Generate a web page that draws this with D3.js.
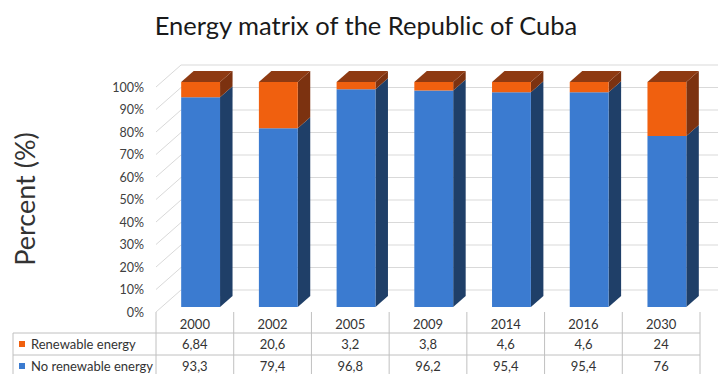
<!DOCTYPE html>
<html><head><meta charset="utf-8">
<script src="https://cdn.jsdelivr.net/npm/d3@7"></script>
<style>html,body{margin:0;padding:0;background:#fff;}svg{display:block;}</style>
</head><body>
<svg id="c" width="718" height="374"></svg>
<script>
const years = ["2000","2002","2005","2009","2014","2016","2030"];
const renewable = [6.84,20.6,3.2,3.8,4.6,4.6,24];
const noRenewable = [93.3,79.4,96.8,96.2,95.4,95.4,76];
const renewableLabels = ["6,84","20,6","3,2","3,8","4,6","4,6","24"];
const noRenewableLabels = ["93,3","79,4","96,8","96,2","95,4","95,4","76"];
const yTicks = [0,10,20,30,40,50,60,70,80,90,100];
const seriesNames = ["No renewable energy","Renewable energy"];

const svg = d3.select("#c");
const font = "Lato, 'Open Sans', sans-serif";

// layout
const x0 = 156, x1 = 700;
const depthX = 25, depthY = -22;       // floor depth offset
const t0 = 0.23, t1 = 0.73;            // bar front/back depth fractions
const x = d3.scaleBand().domain(years).range([x0, x1]).paddingInner(0.5).paddingOuter(0.25);
const col = d3.scaleBand().domain(years).range([x0, x1]);
const y = d3.scaleLinear().domain([0,100]).range([312, 87]);
const P = (px, v, t) => [px + depthX*t, y(v) + depthY*t];

// walls / gridlines
const grid = svg.append("g").attr("stroke","#d9d9d9").attr("stroke-width",1).attr("fill","none");
yTicks.forEach(v => {
  const a = P(x0, v, 0), b = P(x0, v, 1), c = P(x1, v, 1);
  grid.append("path").attr("d", `M${a[0]},${a[1]}L${b[0]},${b[1]}L${c[0]},${c[1]}`);
});

// stacked data
const rows = years.map((yr,i) => ({year: yr, "No renewable energy": noRenewable[i], "Renewable energy": renewable[i]}));
const stack = d3.stack().keys(seriesNames).offset(d3.stackOffsetExpand)(rows);
const colors = {
  "No renewable energy": {front:"#3b7bd0", side:"#1f3f68", top:"#2c5fa3"},
  "Renewable energy": {front:"#f0600f", side:"#7c3210", top:"#8e3a12"}
};

const bars = svg.append("g");
years.forEach((yr, i) => {
  const xl = x(yr), xr = x(yr) + x.bandwidth();
  stack.forEach((s, si) => {
    const v0 = s[i][0]*100, v1 = s[i][1]*100;
    const c = colors[s.key];
    const poly = pts => pts.map(p => p.join(",")).join(" ");
    bars.append("polygon").attr("fill", c.side)
      .attr("points", poly([P(xr,v0,t0), P(xr,v1,t0), P(xr,v1,t1), P(xr,v0,t1)]));
    bars.append("polygon").attr("fill", c.front)
      .attr("points", poly([P(xl,v0,t0), P(xr,v0,t0), P(xr,v1,t0), P(xl,v1,t0)]));
    if (si === stack.length - 1) {
      bars.append("polygon").attr("fill", c.top)
        .attr("points", poly([P(xl,v1,t0), P(xr,v1,t0), P(xr,v1,t1), P(xl,v1,t1)]));
    }
  });
});

// y axis labels
const yAxis = d3.axisLeft(y).tickValues(yTicks).tickFormat(d => d + "%").tickSize(0).tickPadding(0);
const ga = svg.append("g").attr("transform","translate(144,0)").call(yAxis);
ga.select(".domain").remove();
ga.selectAll("text").attr("font-family", font).attr("font-size", 12.5).attr("fill", "#404040");

// y title
svg.append("text").attr("transform","translate(35,199) rotate(-90)")
  .attr("text-anchor","middle").attr("font-family", font).attr("font-size", 27).attr("fill","#333")
  .text("Percent (%)");

// title
svg.append("text").attr("x", 366).attr("y", 35).attr("text-anchor","middle")
  .attr("font-family", font).attr("font-size", 25.5).attr("fill","#1a1a1a")
  .text("Energy matrix of the Republic of Cuba");

// data table
const tbl = svg.append("g").attr("stroke","#c0c0c0").attr("stroke-width",1);
const rTop = 312, r1 = 333, r2 = 355, r3 = 378;
[r1, r2].forEach(yy => tbl.append("line").attr("x1",13).attr("x2",x1).attr("y1",yy).attr("y2",yy));
tbl.append("line").attr("x1",13).attr("x2",13).attr("y1",r1).attr("y2",r3);
years.forEach(yr => tbl.append("line").attr("x1",col(yr)).attr("x2",col(yr)).attr("y1",rTop).attr("y2",r3));
tbl.append("line").attr("x1",x1).attr("x2",x1).attr("y1",rTop).attr("y2",r3);

const tt = svg.append("g").attr("font-family", font).attr("font-size", 13).attr("fill","#333");
years.forEach((yr,i) => {
  const cx = col(yr) + col.bandwidth()/2;
  tt.append("text").attr("x",cx).attr("y",329).attr("text-anchor","middle").text(yr);
  tt.append("text").attr("x",cx).attr("y",349).attr("text-anchor","middle").text(renewableLabels[i]);
  tt.append("text").attr("x",cx).attr("y",371).attr("text-anchor","middle").text(noRenewableLabels[i]);
});
tt.append("rect").attr("x",19).attr("y",341).attr("width",6).attr("height",6).attr("fill",colors["Renewable energy"].front);
tt.append("text").attr("x",31).attr("y",349).text("Renewable energy");
tt.append("rect").attr("x",19).attr("y",363).attr("width",6).attr("height",6).attr("fill",colors["No renewable energy"].front);
tt.append("text").attr("x",31).attr("y",371).text("No renewable energy");
</script>
</body></html>
